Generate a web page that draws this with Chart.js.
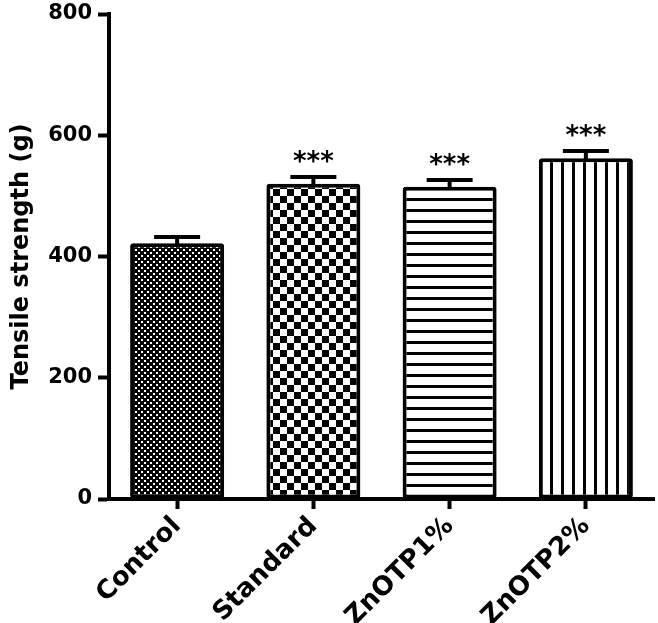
<!DOCTYPE html>
<html>
<head>
<meta charset="utf-8">
<script src="https://cdn.jsdelivr.net/npm/chart.js@4.4.1/dist/chart.umd.min.js"></script>
<style>
  html, body { margin: 0; padding: 0; background: #fff; }
  canvas { display: block; }
</style>
</head>
<body>
<canvas id="chart" width="658" height="623"></canvas>
<script>
// Tensile strength bar chart, mean + SEM with significance marks.

const categories = ['Control', 'Standard', 'ZnOTP1%', 'ZnOTP2%'];
const means = [422, 520, 515, 562];
const sem = [10, 11, 11, 12];
const marks = ['', '***', '***', '***'];
const yMin = 0, yMax = 800, yStep = 200;

const FONT = '"DejaVu Sans", sans-serif';

function tile(w, h, draw) {
  const c = document.createElement('canvas');
  c.width = w; c.height = h;
  const g = c.getContext('2d');
  draw(g);
  return document.getElementById('chart').getContext('2d').createPattern(c, 'repeat');
}

const patterns = [
  // dense white dots on black (staggered)
  tile(6, 6, g => {
    g.fillStyle = '#000'; g.fillRect(0, 0, 6, 6);
    g.fillStyle = '#fff'; g.fillRect(0, 0, 2, 2); g.fillRect(3, 3, 2, 2);
  }),
  // checkerboard
  tile(14, 14, g => { g.fillStyle = '#fff'; g.fillRect(0, 0, 14, 14); g.fillStyle = '#000'; g.fillRect(0, 0, 7, 7); g.fillRect(7, 7, 7, 7); }),
  // horizontal lines
  tile(11, 11, g => { g.fillStyle = '#fff'; g.fillRect(0, 0, 11, 11); g.fillStyle = '#000'; g.fillRect(0, 0, 11, 3); }),
  // vertical lines
  tile(11, 11, g => { g.fillStyle = '#fff'; g.fillRect(0, 0, 11, 11); g.fillStyle = '#000'; g.fillRect(0, 0, 3, 11); })
];

const errorBars = {
  id: 'errorBars',
  afterDatasetsDraw(chart) {
    const ctx = chart.ctx;
    const y = chart.scales.y;
    const meta = chart.getDatasetMeta(0);
    ctx.save();
    ctx.strokeStyle = '#000';
    ctx.fillStyle = '#000';
    ctx.lineWidth = 4;
    meta.data.forEach((bar, i) => {
      const top = y.getPixelForValue(means[i]);
      const cap = y.getPixelForValue(means[i] + sem[i]);
      ctx.beginPath();
      ctx.moveTo(bar.x, top + 2);
      ctx.lineTo(bar.x, cap);
      ctx.moveTo(bar.x - 23, cap);
      ctx.lineTo(bar.x + 23, cap);
      ctx.stroke();
      if (marks[i]) {
        ctx.font = 'bold 26px ' + FONT;
        ctx.textAlign = 'center';
        ctx.textBaseline = 'middle';
        ctx.fillText(marks[i], bar.x, cap - 14);
      }
    });
    ctx.restore();
  }
};

new Chart(document.getElementById('chart').getContext('2d'), {
  type: 'bar',
  data: {
    labels: categories,
    datasets: [{
      data: means,
      backgroundColor: patterns,
      borderColor: '#000',
      borderWidth: 4,
      borderRadius: 3,
      borderSkipped: false,
      barPercentage: 0.69,
      categoryPercentage: 1
    }]
  },
  options: {
    responsive: false,
    animation: false,
    layout: { padding: { top: 14, left: 5, right: 4, bottom: 0 } },
    plugins: { legend: { display: false }, tooltip: { enabled: false } },
    scales: {
      x: {
        grid: { display: true, drawOnChartArea: false, offset: false, tickLength: 10, tickWidth: 4, tickColor: '#000' },
        border: { display: true, width: 4, color: '#000' },
        ticks: { color: '#000', font: { family: FONT, weight: 'bold', size: 26 }, minRotation: 45, maxRotation: 45, autoSkip: false, padding: 2 },
        afterFit: s => { s.height = 124; }
      },
      y: {
        min: yMin, max: yMax,
        grid: { display: true, drawOnChartArea: false, tickLength: 11, tickWidth: 4, tickColor: '#000' },
        border: { display: true, width: 4, color: '#000' },
        ticks: { stepSize: yStep, color: '#000', font: { family: FONT, weight: 'bold', size: 21 }, padding: 6 },
        title: { display: true, text: 'Tensile strength (g)', color: '#000', font: { family: FONT, weight: 'bold', size: 24 }, padding: { top: 2, bottom: 2 } },
        afterFit: s => { s.width = 104; s.paddingTop = 0; s.paddingBottom = 0; }
      }
    }
  },
  plugins: [errorBars]
});
</script>
</body>
</html>
